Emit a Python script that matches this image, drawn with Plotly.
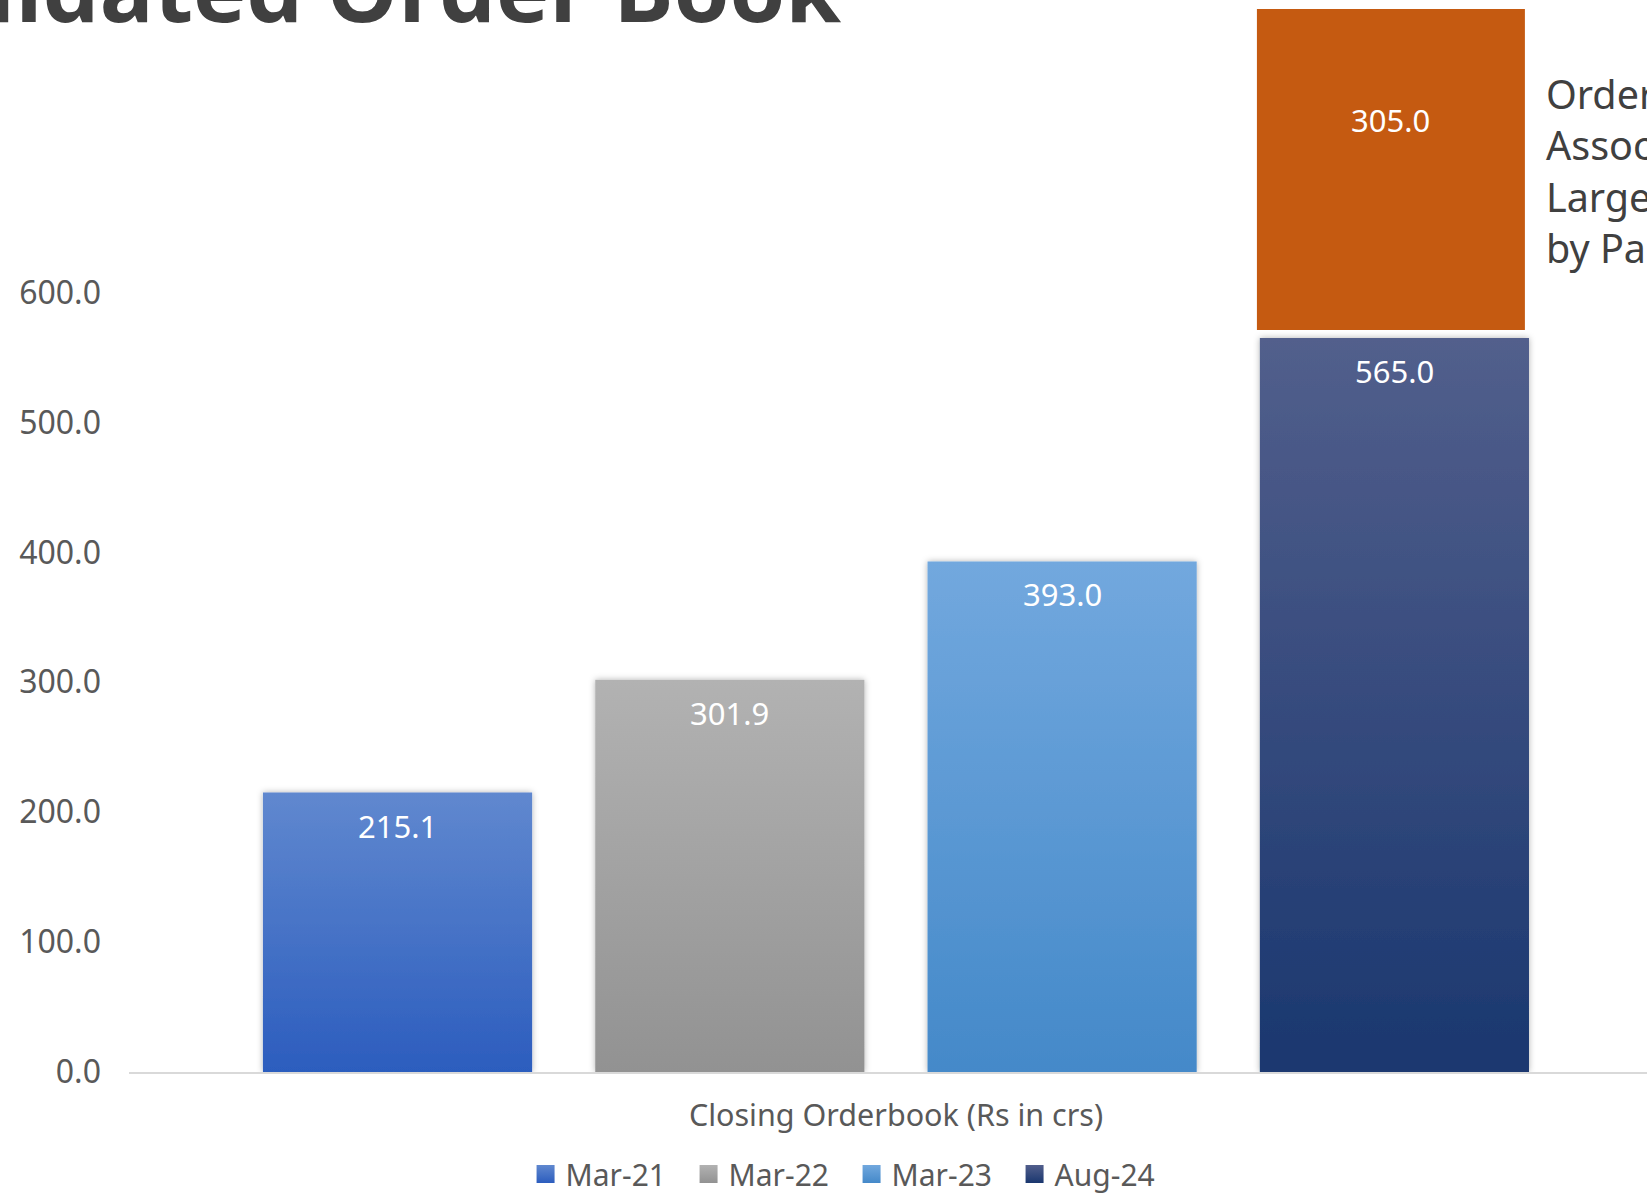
import plotly.graph_objects as go

# ---- data ----
category = ["Closing Orderbook (Rs in crs)"]
series_names = ["Mar-21", "Mar-22", "Mar-23", "Aug-24"]
series_values = [215.1, 301.9, 393.0, 565.0]
large_order_value = 305.0
y_tick_values = [0, 100, 200, 300, 400, 500, 600]
y_tick_labels = ["0.0", "100.0", "200.0", "300.0", "400.0", "500.0", "600.0"]
title_text = "Consolidated Order Book"
side_note = "Order Book<br>Associated with<br>Large Order<br>by Parent"

# ---- styles ----
solid_colors = ["#4672C8", "#A2A2A2", "#5A98D4", "#33487E"]
grad_colors = [["#6088CF", "#2C5DBE"], ["#B2B2B2", "#929292"],
               ["#72A8DE", "#4489C9"], ["#525F8C", "#1A376F"]]
orange = "#C55A11"
FONT = "Noto Sans"
TXT = "#595959"

slot = 0.2166
y_top = 818.2

fig = go.Figure()
for i, (name, val) in enumerate(zip(series_names, series_values)):
    fig.add_trace(go.Bar(
        x=category, y=[val], name=name,
        marker=dict(color=solid_colors[i], line=dict(width=0)),
        hoverinfo="skip",
    ))

# large order box stacked above the Aug-24 bar
fig.add_trace(go.Bar(
    x=category, y=[large_order_value], base=[series_values[-1] + 6.2],
    offset=0.2353, width=0.1747, showlegend=False,
    marker=dict(color=orange, line=dict(width=0)), hoverinfo="skip",
))

annotations = []
for i, val in enumerate(series_values):
    annotations.append(dict(
        x=(i - 1.5) * slot, y=val, xref="x", yref="y",
        text=f"{val:.1f}", showarrow=False, yanchor="middle", yshift=-33,
        font=dict(family=FONT, size=31, color="white"),
    ))
annotations.append(dict(
    x=0.2353 + 0.1747 / 2, y=0.8956, xref="x", yref="paper",
    text=f"{large_order_value:.1f}", showarrow=False, yanchor="middle",
    font=dict(family=FONT, size=31, color="white"),
))
annotations.append(dict(
    x=0.9321, y=0.8475, xref="paper", yref="paper", xanchor="left", yanchor="middle",
    text=side_note, showarrow=False, align="left",
    font=dict(family=FONT, size=39.5, color="#404040"),
))
annotations.append(dict(
    x=0.4704, y=1.0, xref="paper", yref="paper", xanchor="right", yanchor="bottom",
    yshift=-41, text=title_text, showarrow=False,
    font=dict(family="Open Sans", size=90, color="#404040", weight=700),
))

fig.update_layout(
    width=1647, height=1194,
    margin=dict(l=129, r=0, t=9, b=122, pad=0, autoexpand=False),
    paper_bgcolor="white", plot_bgcolor="white",
    barmode="group", bargap=0.1335, bargroupgap=0.19,
    font=dict(family=FONT, color=TXT),
    showlegend=True,
    legend=dict(orientation="h", x=0.476, xanchor="center",
                y=0.0168, yref="container", yanchor="middle",
                entrywidth=118, entrywidthmode="pixels",
                font=dict(family=FONT, size=30, color=TXT), traceorder="normal"),
    annotations=annotations,
)
fig.update_xaxes(
    type="category", range=[-0.5, 0.4896], showline=True, linecolor="#D9D9D9", linewidth=2,
    ticks="", showgrid=False, tickfont=dict(family=FONT, size=30.5, color=TXT),
    ticklabelstandoff=15, fixedrange=True, automargin=False,
)
fig.update_yaxes(
    range=[0, y_top], tickvals=y_tick_values, ticktext=y_tick_labels, showgrid=False,
    zeroline=False, showline=False, ticks="", tickfont=dict(family=FONT, size=32, color=TXT),
    ticklabelstandoff=27, fixedrange=True, automargin=False,
)

grad_js = str(grad_colors).replace("'", '"')
post_script = """
document.body.style.margin = '0';
document.body.style.overflow = 'hidden';
var gd = document.getElementById('{plot_id}');
var svg = gd.querySelector('.main-svg');
var ns = 'http://www.w3.org/2000/svg';
var defs = svg.querySelector('defs');
var grads = GRADS;
grads.forEach(function(g, i){
  var lg = document.createElementNS(ns, 'linearGradient');
  lg.setAttribute('id', 'bargrad' + i);
  lg.setAttribute('x1', '0'); lg.setAttribute('y1', '0');
  lg.setAttribute('x2', '0'); lg.setAttribute('y2', '1');
  [[0, g[0]], [1, g[1]]].forEach(function(s){
    var st = document.createElementNS(ns, 'stop');
    st.setAttribute('offset', s[0]); st.setAttribute('stop-color', s[1]);
    lg.appendChild(st);
  });
  defs.appendChild(lg);
});
var f = document.createElementNS(ns, 'filter');
f.setAttribute('id', 'barshadow');
f.setAttribute('x', '-10%'); f.setAttribute('y', '-10%');
f.setAttribute('width', '120%'); f.setAttribute('height', '120%');
var ds = document.createElementNS(ns, 'feDropShadow');
ds.setAttribute('dx', '0'); ds.setAttribute('dy', '0');
ds.setAttribute('stdDeviation', '3'); ds.setAttribute('flood-color', '#000');
ds.setAttribute('flood-opacity', '0.3');
f.appendChild(ds); defs.appendChild(f);
var traces = gd.querySelectorAll('.barlayer .trace');
traces.forEach(function(t, i){
  if (i < 4) {
    t.querySelectorAll('path').forEach(function(p){
      p.style.fill = 'url(#bargrad' + i + ')';
      p.setAttribute('filter', 'url(#barshadow)');
    });
  }
});
var leg = gd.querySelectorAll('.legend .traces');
leg.forEach(function(t, i){
  t.querySelectorAll('.legendpoints path').forEach(function(p){
    p.style.fill = 'url(#bargrad' + i + ')';
    var tr = p.getAttribute('transform') || '';
    p.setAttribute('transform', tr + ' scale(1.5)');
  });
});
""".replace("GRADS", grad_js)

fig.write_html("out.html", post_script=post_script, config={"displayModeBar": False})
